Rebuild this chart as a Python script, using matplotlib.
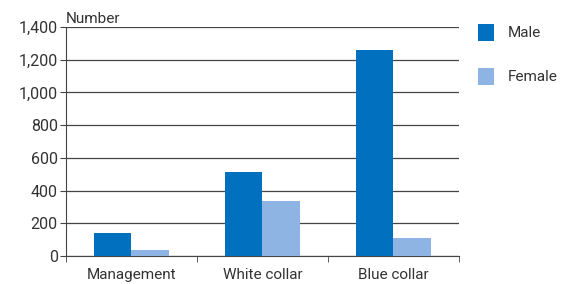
import numpy as np
import matplotlib.pyplot as plt

plt.rcParams['font.family'] = ['Roboto', 'DejaVu Sans']

categories = ["Management", "White collar", "Blue collar"]
male = [142, 515, 1259]
female = [35, 334, 110]
yticks = [0, 200, 400, 600, 800, 1000, 1200, 1400]

txt = '#333333'
fig = plt.figure(figsize=(5.7, 2.84), dpi=100)
ax = fig.add_axes([0.1158, 0.0986, 0.805 - 0.1158, 0.905 - 0.0986])

x = np.arange(len(categories))
w = 0.285
b1 = ax.bar(x - w/2, male, w, color='#0070bf', label='Male', zorder=3)
b2 = ax.bar(x + w/2, female, w, color='#8db4e2', label='Female', zorder=3)

ax.set_xlim(-0.5, 2.5)
ax.set_ylim(0, 1400)
ax.set_yticks(yticks)
ax.set_yticklabels([f"{v:,}" for v in yticks])
ax.yaxis.grid(True, color='#444444', linewidth=0.9, zorder=0)
ax.set_axisbelow(True)

ax.set_xticks(x)
ax.set_xticklabels(categories)
ax.set_xticks([-0.5, 0.5, 1.5, 2.5], minor=True)
ax.tick_params(axis='x', which='major', length=0, pad=9, labelsize=11, labelcolor=txt)
ax.tick_params(axis='x', which='minor', length=4, direction='out', color='#444444')
ax.tick_params(axis='y', length=4, direction='out', color='#444444', labelsize=11.5, labelcolor=txt, pad=2)

for s in ['top', 'right']:
    ax.spines[s].set_visible(False)
ax.spines['left'].set_color('#444444')
ax.spines['bottom'].set_color('#444444')

ax.text(0.0, 1.005, "Number", transform=ax.transAxes, fontsize=11, color=txt, va='bottom', ha='left')

fig.legend(handles=[b1, b2], loc='upper left', bbox_to_anchor=(0.815, 0.965),
           frameon=False, fontsize=11, handlelength=1.0, handleheight=1.35,
           labelspacing=1.75, handletextpad=0.9, labelcolor=txt)

plt.savefig("out.png", dpi=100)
